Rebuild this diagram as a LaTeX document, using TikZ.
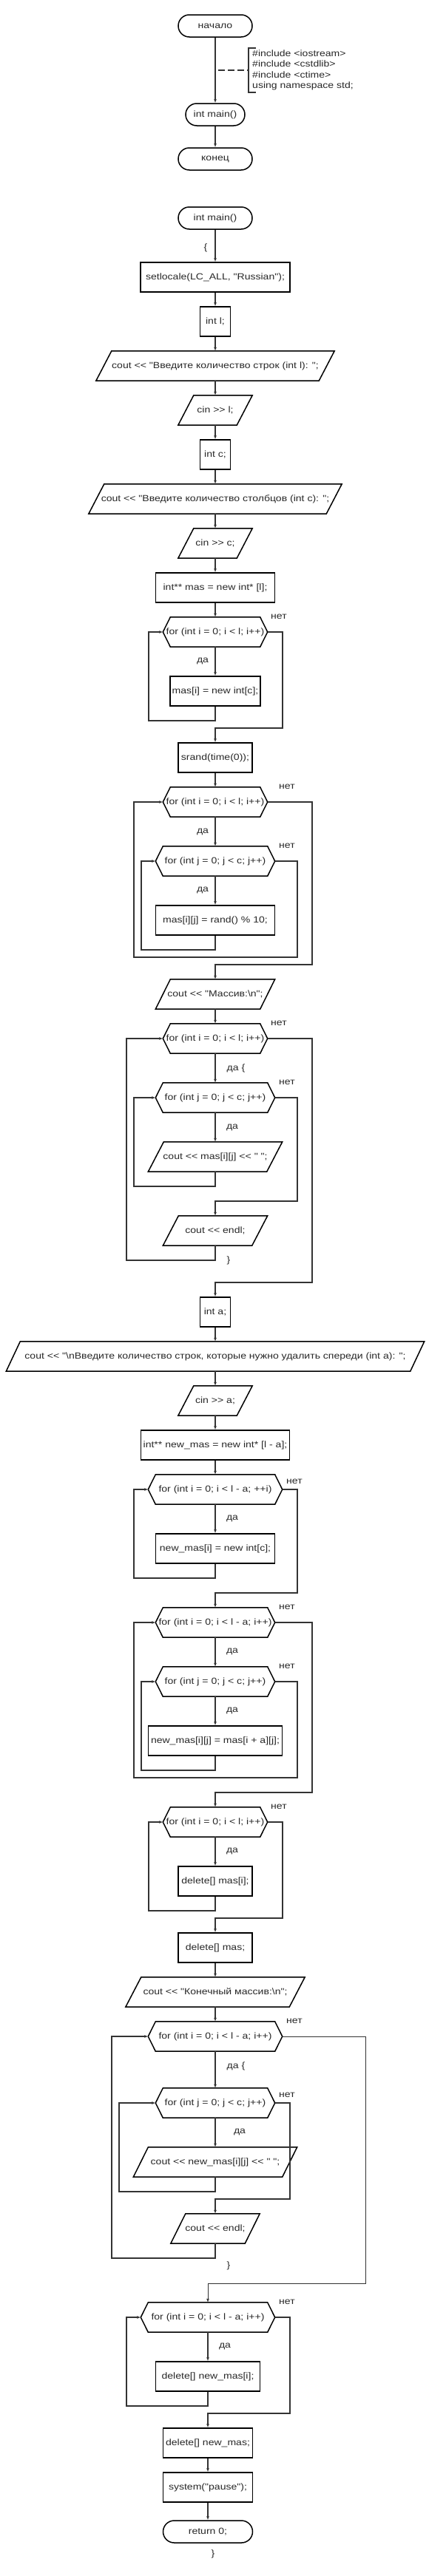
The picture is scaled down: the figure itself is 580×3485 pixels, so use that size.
\documentclass[tikz,border=0pt]{standalone}
\usepackage{fontspec}
\setmainfont{Liberation Sans}[FakeStretch=1.17, Ligatures=TeXOff]
\usetikzlibrary{arrows.meta,calc}
\definecolor{txt}{RGB}{40,40,40}
\definecolor{ln}{RGB}{51,51,51}
\tikzset{
  every node/.style={font=\fontsize{12}{14.3}\selectfont, text=txt},
  nbase/.style={inner sep=0pt, minimum height=40pt, align=center},
  nproc/.style={nbase, draw=black, line width=1.5pt},
  nterm/.style={nbase, draw=black, line width=1.5pt, rounded corners=15pt, minimum height=30pt},
  nplain/.style={nbase, draw=none},
  nshape/.style={draw=black, line width=1.5pt, line join=miter},
  narr/.style={draw=ln, line width=1.2pt, -{Latex[length=5pt,width=4pt]}},
  ncon/.style={draw=ln, line width=1.2pt},
  nlbl/.style={inner sep=0pt},
}
\newcommand\iobox[6]{%
  \node[nplain, minimum width=#4pt] (#1) at (#2,#3) {#6};
  \draw[nshape] (#1.south west) -- ($(#1.north west)+(#5,0)$) -- (#1.north east) -- ($(#1.south east)-(#5,0)$) -- cycle;
}
\newcommand\hexbox[5]{%
  \node[nplain, minimum width=#4pt] (#1) at (#2,#3) {#5};
  \draw[nshape] (#1.west) -- ($(#1.north west)+(10,0)$) -- ($(#1.north east)-(10,0)$) -- (#1.east) -- ($(#1.south east)-(10,0)$) -- ($(#1.south west)+(10,0)$) -- cycle;
}
\begin{document}
\begin{tikzpicture}[x=1pt,y=-1pt]
\fill[white] (0,0) rectangle (580,3485);
\useasboundingbox (0,0) rectangle (580,3485);

% ---- header block
\node[nterm, minimum width=100pt] (start) at (291,35) {начало};
\node[nterm, minimum width=80pt] (m1) at (291,155) {int main()};
\node[nterm, minimum width=100pt] (fin) at (291,215) {конец};
\draw[narr] (start) -- (m1);
\draw[narr] (m1) -- (fin);
\coordinate (cm) at (291,95);
\coordinate (br) at (336,95);
\draw[ncon, line width=1.3pt, dash pattern=on 9pt off 4pt, dash phase=9pt] (cm) -- (br);
\draw[ncon, line width=1.5pt] (346,65) -- (336,65) -- (br) -- (336,125) -- (346,125);
\node[nlbl, anchor=west, align=left] (cmt) at (341,95) {\#include <iostream>\\\#include <cstdlib>\\\#include <ctime>\\using namespace std;};

% ---- main
\node[nterm, minimum width=100pt] (m2) at (291,295) {int main()};
\node[nlbl] (ob) at (278,335) {\{};
\node[nproc, minimum width=202pt] (setl) at (291,375) {setlocale(LC\_ALL, "Russian");};
\node[nproc, minimum width=41pt] (intl) at (291,435) {int l;};
\iobox{outl}{291}{495}{322}{21}{cout << "Введите количество строк (int l): ";}
\iobox{cinl}{291}{555}{100}{21}{cin >> l;}
\node[nproc, minimum width=41pt] (intc) at (291,615) {int c;};
\iobox{outc}{291}{675}{342}{21}{cout << "Введите количество столбцов (int c): ";}
\iobox{cinc}{291}{735}{100}{21}{cin >> c;}
\node[nproc, minimum width=161pt] (mas) at (291,795) {int** mas = new int* [l];};
\draw[narr] (m2) -- (setl);
\draw[narr] (setl) -- (intl);
\draw[narr] (intl) -- (outl);
\draw[narr] (outl) -- (cinl);
\draw[narr] (cinl) -- (intc);
\draw[narr] (intc) -- (outc);
\draw[narr] (outc) -- (cinc);
\draw[narr] (cinc) -- (mas);

% loop 1
\hexbox{f1}{291}{855}{141}{for (int i = 0; i < l; i++)}
\node[nproc, minimum width=122pt] (masi) at (291,935) {mas[i] = new int[c];};
\node[nproc, minimum width=100pt] (srand) at (291,1025) {srand(time(0));};
\node[nlbl] at (377,834) {нет};
\node[nlbl] at (274,894) {да};
\draw[narr] (mas) -- (f1);
\draw[narr] (f1) -- (masi);
\draw[narr] (masi.south) |- (201,975) |- (f1.west);
\draw[narr] (f1.east) -| (382,985) -| (srand.north);

% loop 2/3
\hexbox{f2}{291}{1085}{141}{for (int i = 0; i < l; i++)}
\hexbox{f3}{291}{1165}{161}{for (int j = 0; j < c; j++)}
\node[nproc, minimum width=161pt] (rnd) at (291,1245) {mas[i][j] = rand() \% 10;};
\iobox{outm}{291}{1345}{161}{20}{cout << "Массив:\textbackslash n";}
\node[nlbl] at (388,1064) {нет};
\node[nlbl] at (274,1125) {да};
\node[nlbl] at (388,1144) {нет};
\node[nlbl] at (274,1204) {да};
\draw[narr] (srand) -- (f2);
\draw[narr] (f2) -- (f3);
\draw[narr] (f3) -- (rnd);
\draw[narr] (rnd.south) |- (191,1285) |- (f3.west);
\draw[narr] (f3.east) -| (402,1295) -- (181,1295) |- (f2.west);
\draw[narr] (f2.east) -| (422,1305) -| (outm.north);

% loop 4/5
\hexbox{f4}{291}{1405}{141}{for (int i = 0; i < l; i++)}
\hexbox{f5}{291}{1485}{161}{for (int j = 0; j < c; j++)}
\iobox{outij}{291}{1565}{181}{21}{cout << mas[i][j] << " ";}
\iobox{endl1}{291}{1665}{141}{21}{cout << endl;}
\node[nlbl] at (377,1384) {нет};
\node[nlbl] at (319,1445) {да \{};
\node[nlbl] at (388,1464) {нет};
\node[nlbl] at (314,1525) {да};
\node[nlbl] at (309,1705) {\}};
\draw[narr] (outm) -- (f4);
\draw[narr] (f4) -- (f5);
\draw[narr] (f5) -- (outij);
\draw[narr] (outij.south) |- (181,1605) |- (f5.west);
\draw[narr] (f5.east) -| (402,1625) -| (endl1.north);
\draw[narr] (endl1.south) |- (171,1705) |- (f4.west);

\node[nproc, minimum width=41pt] (inta) at (291,1775) {int a;};
\draw[narr] (f4.east) -| (422,1735) -| (inta.north);
\iobox{outa}{291}{1835}{565}{19}{cout << "\textbackslash nВведите количество строк, которые нужно удалить спереди (int a): ";}
\iobox{cina}{291}{1895}{100}{21}{cin >> a;}
\node[nproc, minimum width=201pt] (newmas) at (291,1955) {int** new\_mas = new int* [l - a];};
\draw[narr] (inta) -- (outa);
\draw[narr] (outa) -- (cina);
\draw[narr] (cina) -- (newmas);

% loop 6
\hexbox{f6}{291}{2015}{181}{for (int i = 0; i < l - a; ++i)}
\node[nproc, minimum width=161pt] (newmasi) at (291,2095) {new\_mas[i] = new int[c];};
\node[nlbl] at (398,2004) {нет};
\node[nlbl] at (314,2054) {да};
\draw[narr] (newmas) -- (f6);
\draw[narr] (f6) -- (newmasi);
\draw[narr] (newmasi.south) |- (181,2135) |- (f6.west);

% loop 7/8
\hexbox{f7}{291}{2195}{161}{for (int i = 0; i < l - a; i++)}
\hexbox{f8}{291}{2275}{161}{for (int j = 0; j < c; j++)}
\node[nproc, minimum width=181pt] (copy) at (291,2355) {new\_mas[i][j] = mas[i + a][j];};
\node[nlbl] at (388,2174) {нет};
\node[nlbl] at (314,2234) {да};
\node[nlbl] at (388,2254) {нет};
\node[nlbl] at (314,2314) {да};
\draw[narr] (f6.east) -| (402,2155) -| (f7.north);
\draw[narr] (f7) -- (f8);
\draw[narr] (f8) -- (copy);
\draw[narr] (copy.south) |- (191,2395) |- (f8.west);
\draw[narr] (f8.east) -| (402,2405) -- (181,2405) |- (f7.west);

% loop 9
\hexbox{f9}{291}{2465}{141}{for (int i = 0; i < l; i++)}
\node[nproc, minimum width=100pt] (delmasi) at (291,2545) {delete[] mas[i];};
\node[nproc, minimum width=100pt] (delmas) at (291,2635) {delete[] mas;};
\node[nlbl] at (377,2444) {нет};
\node[nlbl] at (314,2504) {да};
\draw[narr] (f7.east) -| (422,2425) -| (f9.north);
\draw[narr] (f9) -- (delmasi);
\draw[narr] (delmasi.south) |- (201,2585) |- (f9.west);
\draw[narr] (f9.east) -| (382,2595) -| (delmas.north);

% loop 10/11
\iobox{outfin}{291}{2695}{242}{21}{cout << "Конечный массив:\textbackslash n";}
\hexbox{f10}{291}{2755}{181}{for (int i = 0; i < l - a; i++)}
\hexbox{f11}{291}{2845}{161}{for (int j = 0; j < c; j++)}
\iobox{outnew}{291}{2925}{221}{20}{cout << new\_mas[i][j] << " ";}
\iobox{endl2}{291}{3015}{120}{20}{cout << endl;}
\node[nlbl] at (398,2734) {нет};
\node[nlbl] at (319,2795) {да \{};
\node[nlbl] at (388,2834) {нет};
\node[nlbl] at (324,2884) {да};
\node[nlbl] at (309,3065) {\}};
\draw[narr] (delmas) -- (outfin);
\draw[narr] (outfin) -- (f10);
\draw[narr] (f10) -- (f11);
\draw[narr] (f11) -- (outnew);
\draw[narr] (outnew.south) |- (161,2965) |- (f11.west);
\draw[narr] (f11.east) -| (392,2975) -| (endl2.north);
\draw[narr] (endl2.south) |- (151,3055) |- (f10.west);

% loop 12
\hexbox{f12}{281}{3135}{181}{for (int i = 0; i < l - a; i++)}
\node[nproc, minimum width=141pt] (delnewi) at (281,3215) {delete[] new\_mas[i];};
\node[nproc, minimum width=121pt] (delnew) at (281,3305) {delete[] new\_mas;};
\node[nproc, minimum width=121pt] (sys) at (281,3365) {system("pause");};
\node[nterm, minimum width=121pt] (ret) at (281,3425) {return 0;};
\node[nlbl] at (388,3114) {нет};
\node[nlbl] at (304,3174) {да};
\node[nlbl] at (288,3455) {\}};
\draw[narr, line width=0.9pt] (f10.east) -| (494,3089) -| (f12.north);
\draw[narr] (f12) -- (delnewi);
\draw[narr] (delnewi.south) |- (171,3255) |- (f12.west);
\draw[narr] (f12.east) -| (392,3265) -| (delnew.north);
\draw[narr] (delnew) -- (sys);
\draw[narr] (sys) -- (ret);
\end{tikzpicture}
\end{document}
